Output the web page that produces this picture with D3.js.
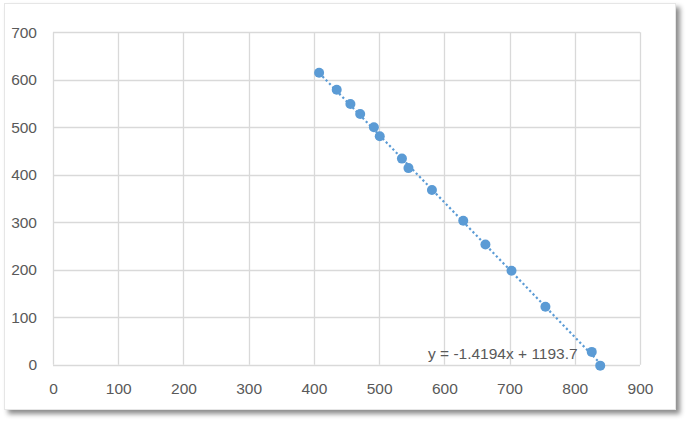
<!DOCTYPE html>
<html>
<head>
<meta charset="utf-8">
<script src="https://cdn.jsdelivr.net/npm/d3@7"></script>
<style>
  html, body { margin: 0; padding: 0; background: #ffffff; }
  svg { display: block; }
  text { font-family: "Liberation Sans", Arial, sans-serif; fill: #595959; }
</style>
</head>
<body>
<svg id="chart" width="690" height="425"></svg>
<script>
// ---- data ----
const xValues = [408, 435, 456, 471, 492, 501, 535, 545, 581, 629, 663, 703, 755, 826, 839];
const yValues = [615, 579, 549, 528, 500, 481, 434, 414, 368, 303, 253, 198, 122, 27, -2];
const xTicks = [0, 100, 200, 300, 400, 500, 600, 700, 800, 900];
const yTicks = [0, 100, 200, 300, 400, 500, 600, 700];
const trendSlope = [-1.4194];
const trendIntercept = [1193.7];
const trendLabel = ["y = -1.4194x + 1193.7"];

(function () {
const svg = d3.select("#chart");

// card with shadow
const defs = svg.append("defs");
const f = defs.append("filter").attr("id", "shadow")
  .attr("x", "-5%").attr("y", "-5%").attr("width", "115%").attr("height", "115%");
f.append("feDropShadow").attr("dx", 4).attr("dy", 4).attr("stdDeviation", 2.5)
  .attr("flood-color", "#000").attr("flood-opacity", 0.45);

svg.append("rect").attr("x", 4.5).attr("y", 3.5).attr("width", 671).attr("height", 406)
  .attr("fill", "#ffffff").attr("stroke", "#e6e6e6").attr("stroke-width", 1)
  .attr("filter", "url(#shadow)");

const pL = 53, pR = 640, pT = 32.3, pB = 364.7;
const x = d3.scaleLinear().domain([0, 900]).range([pL, pR]);
const y = d3.scaleLinear().domain([0, 700]).range([pB, pT]);

const grid = svg.append("g");
grid.selectAll("line.v").data(xTicks).join("line").attr("class", "v")
  .attr("x1", d => Math.round(x(d)) + 0.5).attr("x2", d => Math.round(x(d)) + 0.5)
  .attr("y1", y(700)).attr("y2", y(0))
  .attr("stroke", "#d9d9d9").attr("stroke-width", 1.3);
grid.selectAll("line.h").data(yTicks).join("line").attr("class", "h")
  .attr("y1", d => Math.round(y(d)) + 0.5).attr("y2", d => Math.round(y(d)) + 0.5)
  .attr("x1", x(0)).attr("x2", x(900))
  .attr("stroke", "#d9d9d9").attr("stroke-width", 1.3);

// axes labels via d3 axes
const xAxis = svg.append("g").attr("transform", `translate(0,${pB})`)
  .call(d3.axisBottom(x).tickValues(xTicks).tickSize(0).tickPadding(18));
xAxis.select(".domain").remove();
xAxis.selectAll("text").style("font-size", "15.5px").attr("fill", "#595959")
  .style("font-family", "'Liberation Sans', Arial, sans-serif");

const yAxis = svg.append("g").attr("transform", `translate(${pL},0)`)
  .call(d3.axisLeft(y).tickValues(yTicks).tickSize(0).tickPadding(16));
yAxis.select(".domain").remove();
yAxis.selectAll("text").style("font-size", "15.5px").attr("fill", "#595959")
  .style("font-family", "'Liberation Sans', Arial, sans-serif");

// trendline
const xMin = d3.min(xValues), xMax = d3.max(xValues);
const trend = [xMin, xMax].map(v => [v, trendSlope[0] * v + trendIntercept[0]]);
svg.append("path")
  .attr("d", d3.line().x(d => x(d[0])).y(d => y(d[1]))(trend))
  .attr("fill", "none").attr("stroke", "#5b9bd5").attr("stroke-width", 2.2)
  .attr("stroke-dasharray", "2.2 2.6");

// points
const pts = xValues.map((v, i) => [v, yValues[i]]);
svg.append("g").selectAll("circle").data(pts).join("circle")
  .attr("cx", d => x(d[0])).attr("cy", d => y(d[1])).attr("r", 5)
  .attr("fill", "#5b9bd5");

// equation label
svg.append("text").attr("x", 428).attr("y", 359)
  .style("font-size", "15.5px").text(trendLabel[0]);
})();
</script>
</body>
</html>
